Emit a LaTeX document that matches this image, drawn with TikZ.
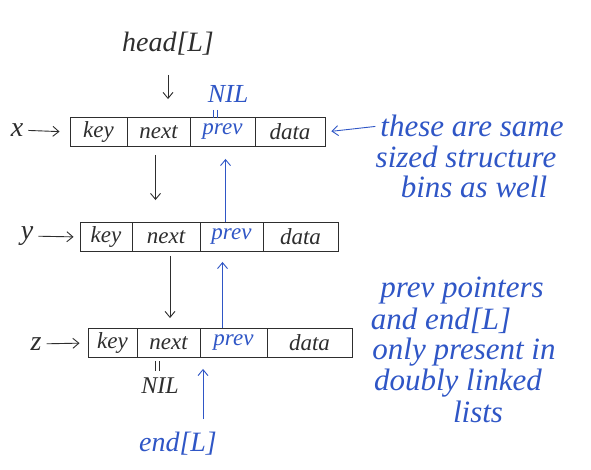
\documentclass[tikz,border=0pt]{standalone}
\usepackage{fontspec}
\setmainfont{Liberation Serif}
\usetikzlibrary{arrows.meta}
\definecolor{ink}{HTML}{2E2E2E}
\definecolor{pen}{HTML}{2F56C6}
\tikzset{
  x=1pt, y=-1pt,
  cell/.style={draw=ink, line width=0.9pt, minimum height=29pt, inner sep=0pt,
               font=\itshape\fontsize{23}{25}\selectfont, text=ink},
  pcell/.style={cell, text=pen},
  lbl/.style={font=\itshape\fontsize{28}{30}\selectfont, text=ink, inner sep=1pt},
  note/.style={font=\itshape\fontsize{31}{33}\selectfont, text=pen, inner sep=1pt},
  eqmark/.style={line width=0.9pt},
  blk/.style={draw=ink, line width=0.9pt, -{Straight Barb[length=6pt,width=10pt]}},
  blu/.style={draw=pen, line width=0.9pt, -{Straight Barb[length=6pt,width=10pt]}},
}
\begin{document}
\begin{tikzpicture}
\useasboundingbox[fill=white] (0,0) rectangle (591,470);

% list node x
\node[cell, minimum width=57pt] (xkey)  at (98.5,132) {key};
\node[cell, minimum width=63pt] (xnext) at (158.5,132) {next};
\node[pcell, minimum width=65pt] (xprev) at (222.5,132) {prev};
\node[cell, minimum width=70pt] (xdata) at (290,132) {data};

% list node y
\node[cell, minimum width=52pt] (ykey)  at (106,237) {key};
\node[cell, minimum width=68pt] (ynext) at (166,237) {next};
\node[pcell, minimum width=63pt] (yprev) at (231.5,237) {prev};
\node[cell, minimum width=75pt] (ydata) at (300.5,237) {data};

% list node z
\node[cell, minimum width=49pt] (zkey)  at (112.5,343) {key};
\node[cell, minimum width=63pt] (znext) at (168.5,343) {next};
\node[pcell, minimum width=67pt] (zprev) at (233.5,343) {prev};
\node[cell, minimum width=85pt] (zdata) at (309.5,343) {data};

% variable labels
\node[lbl] (xl) at (17,130) {x};
\node[lbl] (yl) at (27,236) {y};
\node[lbl] (zl) at (36,344) {z};
\draw[blk, shorten <=4pt, shorten >=10pt] (xl) -- (xkey.west);
\draw[blk, shorten <=4pt, shorten >=6pt] (yl) -- (ykey.west);
\draw[blk, shorten <=4pt, shorten >=8pt] (zl) -- (zkey.west);

% head pointer
\node[lbl] (head) at (168,44) {head[L]};
\draw[blk, shorten <=18pt, shorten >=18pt] (head.south) -- (head.south |- xnext.north);

% next pointers
\draw[blk, shorten <=8pt, shorten >=22pt] ([xshift=-3pt]xnext.south) -- ([xshift=-3pt]xnext.south |- ynext.north);
\draw[blk, shorten <=4pt, shorten >=10pt] ([xshift=4pt]ynext.south) -- ([xshift=4pt]ynext.south |- znext.north);

% NIL ends, each tied to its field by a small vertical "=" sign
\node[note, font=\itshape\fontsize{26}{28}\selectfont] (nilx) at (228,94) {NIL};
\coordinate (eqx) at (215,114);
\draw[eqmark, draw=pen] ([xshift=-2pt]eqx) ++(0,-4) -- ++(0,8)
                        ([xshift=2pt]eqx) ++(0,-4) -- ++(0,8);
\node[lbl, font=\itshape\fontsize{24}{26}\selectfont] (nilz) at (160,386) {NIL};
\coordinate (eqz) at (157,366);
\draw[eqmark, draw=ink] ([xshift=-2pt]eqz) ++(0,-5) -- ++(0,10)
                        ([xshift=2pt]eqz) ++(0,-5) -- ++(0,10);

% prev pointers
\draw[blu, shorten >=12pt] ([xshift=-6pt]yprev.north) -- ([xshift=-6pt]yprev.north |- xprev.south);
\draw[blu, shorten >=10pt] ([xshift=-11pt]zprev.north) -- ([xshift=-11pt]zprev.north |- yprev.south);

% tail pointer
\node[note, font=\itshape\fontsize{28}{30}\selectfont] (end) at (178,444) {end[L]};
\draw[blu, shorten <=12pt, shorten >=11pt] ([xshift=25pt]end.north) -- ([xshift=25pt]end.north |- zprev.south);

% remarks
\node[note] (n1) at (472,126) {these are same};
\node[note] (n2) at (466,157) {sized structure};
\node[note] (n3) at (474,187) {bins as well};
\draw[blu, shorten <=4pt, shorten >=6pt] (n1.west) -- (xdata.east);

\node[note] (m1) at (462,291) {prev pointers};
\node[note] (m2) at (441,321) {and end[L]};
\node[note] (m3) at (464,352) {only present in};
\node[note] (m4) at (458,383) {doubly linked};
\node[note] (m5) at (478,412) {lists};
\end{tikzpicture}
\end{document}
